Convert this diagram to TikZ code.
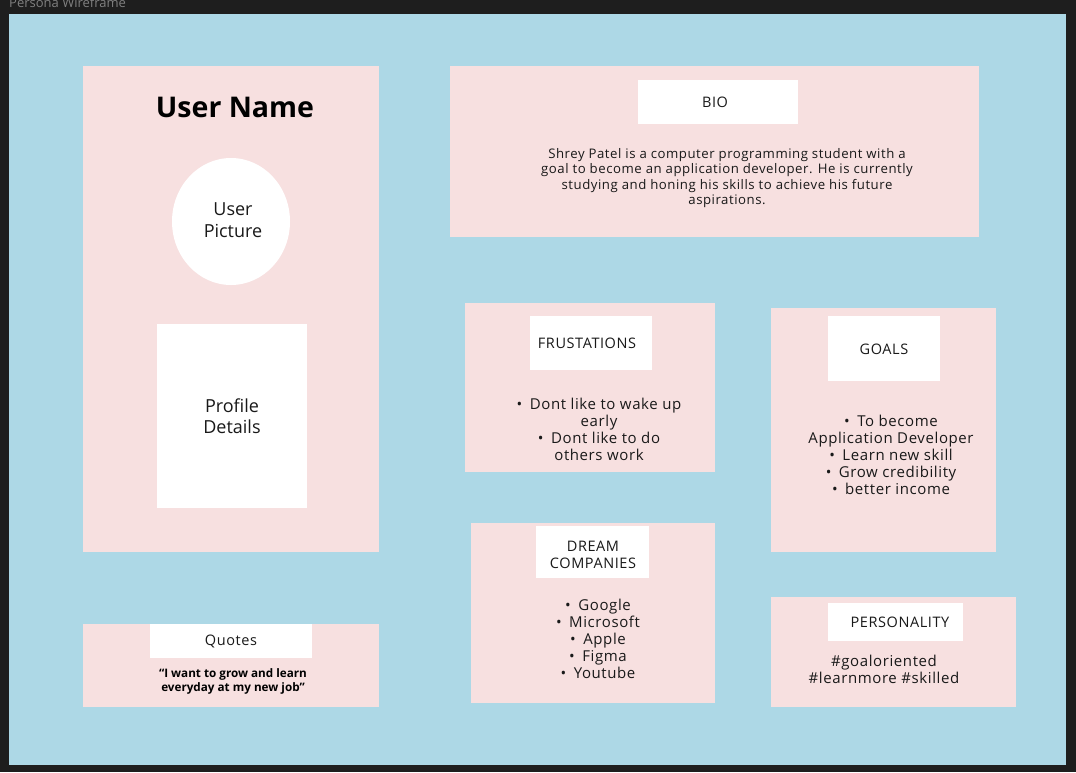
\documentclass[tikz,border=0pt]{standalone}
\usepackage{fontspec}
\setmainfont{Open Sans}
\newfontfamily\wideface[LetterSpace=4]{Open Sans}
\newcommand\listdot{•\hspace{7.5pt}}

\definecolor{canvasdark}{RGB}{30,30,30}
\definecolor{framegray}{RGB}{128,128,128}
\definecolor{frameblue}{RGB}{173,216,230}
\definecolor{cardpink}{RGB}{247,224,224}
\definecolor{inktext}{RGB}{25,25,25}

\begin{document}
\begin{tikzpicture}[x=1pt, y=-1pt,
  headtext/.style={align=center, text=inktext, inner sep=0pt, font=\wideface\fontsize{14.5}{17}\selectfont},
  bodytext/.style={align=center, text=inktext, inner sep=0pt, font=\wideface\fontsize{15}{17}\selectfont},
  bigtext/.style={align=center, text=inktext, inner sep=0pt, font=\fontsize{18}{21.5}\selectfont}]

  \useasboundingbox (0,0) rectangle (1076,772);

  % Canvas and frame
  \fill[canvasdark] (0,0) rectangle (1076,772);
  \node[anchor=base west, text=framegray, inner sep=0pt, font=\fontsize{13}{15}\selectfont] (frametitle) at (9,7.5) {Persona Wireframe};
  \fill[frameblue] (9,14) rectangle (1066,765);

  % Pink cards
  \fill[cardpink] (83,66) rectangle (379,552);
  \fill[cardpink] (83,624) rectangle (379,707);
  \fill[cardpink] (450,66) rectangle (979,237);
  \fill[cardpink] (465,303) rectangle (715,472);
  \fill[cardpink] (771,308) rectangle (996,552);
  \fill[cardpink] (471,523) rectangle (715,703);
  \fill[cardpink] (771,597) rectangle (1016,707);

  % White label boxes
  \fill[white] (231,221.5) ellipse (59 and 63.5);
  \fill[white] (157,324) rectangle (307,508);
  \fill[white] (150,624) rectangle (312,658);
  \fill[white] (638,80) rectangle (798,124);
  \fill[white] (530,316) rectangle (652,370);
  \fill[white] (828,316) rectangle (940,381);
  \fill[white] (536,526) rectangle (649,578);
  \fill[white] (828,603) rectangle (963,641);

  % User column
  \node[text=black, inner sep=0pt, font=\fontsize{28.5}{30}\bfseries] (username) at (235,107) {User Name};
  \node[bigtext] (userpic) at (233,220) {User\\Picture};
  \node[bigtext] (profile) at (232,416) {Profile\\Details};
  \node[headtext] (quotes) at (231,641) {Quotes};
  \node[align=center, text=black, inner sep=0pt, font=\fontsize{11.7}{14}\bfseries] (quotetext) at (233,681) {“I want to grow and learn\\ everyday at my new job”};

  % Bio
  \node[headtext] (bio) at (715,102) {BIO};
  \node[align=center, text=inktext, inner sep=0pt, font=\wideface\fontsize{13.2}{15.3}\selectfont] (biotext) at (727,178)
    {Shrey Patel is a computer programming student with a\\
     goal to become an application developer. He is currently\\
     studying and honing his skills to achieve his future\\
     aspirations.};

  % Frustrations and goals
  \node[headtext] (frust) at (587,343) {FRUSTATIONS};
  \node[bodytext] (frusttext) at (599,429)
    {\listdot Dont like to wake up\\ early\\ \listdot Dont like to do\\ others work};
  \node[headtext] (goals) at (884,349) {GOALS};
  \node[bodytext] (goalstext) at (891,455)
    {\listdot To become\\ Application Developer\\ \listdot Learn new skill\\ \listdot Grow credibility\\ \listdot better income};

  % Companies and personality
  \node[headtext] (dream) at (593,555) {DREAM\\COMPANIES};
  \node[bodytext] (dreamtext) at (598,639)
    {\listdot Google\\ \listdot Microsoft\\ \listdot Apple\\ \listdot Figma\\ \listdot Youtube};
  \node[headtext] (persona) at (900,622) {PERSONALITY};
  \node[bodytext] (personatext) at (884,669) {\#goaloriented\\ \#learnmore \#skilled};

\end{tikzpicture}
\end{document}
